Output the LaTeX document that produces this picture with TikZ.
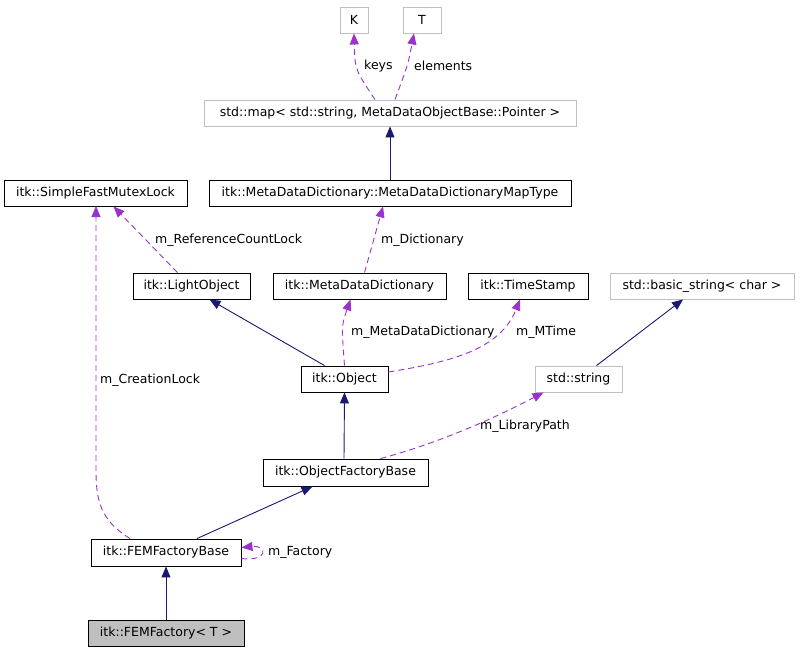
\documentclass[tikz,border=0pt]{standalone}
\usepackage{fontspec}
\setmainfont{DejaVu Sans}
\usetikzlibrary{arrows.meta}
\definecolor{navyedge}{HTML}{191970}
\definecolor{purpedge}{HTML}{9A32CD}
\definecolor{greyline}{HTML}{BFBFBF}
\begin{document}
\begin{tikzpicture}[x=1pt,y=-1pt,
  box/.style={draw=black, line width=0.9pt, inner sep=0pt, font=\fontsize{12.5}{15}\selectfont},
  gbox/.style={draw=greyline, line width=0.9pt, inner sep=0pt, font=\fontsize{12.5}{15}\selectfont},
  inh/.style={draw=navyedge, line width=0.9pt, -{Triangle[length=11pt,width=9pt]}},
  dep/.style={draw=purpedge, line width=0.9pt, dash pattern=on 6pt off 4pt, -{Triangle[length=11pt,width=9pt]}},
  lbl/.style={font=\fontsize{12.5}{15}\selectfont, inner sep=0pt}]
\useasboundingbox (0,0) rectangle (800,653);

\node[gbox, minimum width=28, minimum height=26] (K) at (354,20) {K};
\node[gbox, minimum width=38, minimum height=26] (T) at (422,20) {T};
\node[gbox, minimum width=372, minimum height=26] (map) at (390,113) {std::map< std::string, MetaDataObjectBase::Pointer >};
\node[box, minimum width=183, minimum height=26] (mutex) at (95.5,193) {itk::SimpleFastMutexLock};
\node[box, minimum width=362, minimum height=26] (mapt) at (390,193) {itk::MetaDataDictionary::MetaDataDictionaryMapType};
\node[box, minimum width=117, minimum height=26] (light) at (191.5,286) {itk::LightObject};
\node[box, minimum width=173, minimum height=26] (mdd) at (359.5,286) {itk::MetaDataDictionary};
\node[box, minimum width=120, minimum height=26] (ts) at (528,286) {itk::TimeStamp};
\node[gbox, minimum width=184, minimum height=26] (bstr) at (702,286) {std::basic\_string< char >};
\node[box, minimum width=87, minimum height=26] (obj) at (344.5,379) {itk::Object};
\node[gbox, minimum width=87, minimum height=26] (str) at (578.5,379) {std::string};
\node[box, minimum width=165, minimum height=27] (ofb) at (345.5,472.5) {itk::ObjectFactoryBase};
\node[box, minimum width=150, minimum height=27] (fembase) at (166,552.5) {itk::FEMFactoryBase};
\node[box, fill=greyline, minimum width=156, minimum height=26] (fem) at (166,633) {itk::FEMFactory< T >};

% map -> K, T
\draw[dep] ([xshift=-15]map.north) .. controls ([xshift=-35,yshift=30]map.north) .. (K.south);
\node[lbl, anchor=west] (lkeys) at (364,66) {keys};
\draw[dep] ([xshift=5]map.north) .. controls ([xshift=18,yshift=35]map.north) .. ([xshift=-8]T.south);
\node[lbl, anchor=west] (lel) at (414,66) {elements};

% inheritance map <- mapt
\draw[inh] (mapt.north) -- (map.south);

% mdd -> mapt
\draw[dep] ([xshift=5]mdd.north) -- ([xshift=-7]mapt.south);
\node[lbl, anchor=west] (ldict) at (381,240) {m\_Dictionary};

% light -> mutex
\draw[dep] ([xshift=-14]light.north) -- ([xshift=18]mutex.south);
\node[lbl, anchor=west] (lref) at (155,240) {m\_ReferenceCountLock};

% fembase -> mutex (creation lock)
\draw[dep] ([xshift=-36]fembase.north) .. controls (100,520) and (96,500) .. (96,470) -- (96,206);
\node[lbl, anchor=west] (lcl) at (100,380) {m\_CreationLock};

% obj -> light
\draw[inh] ([xshift=-20]obj.north) -- ([xshift=18]light.south);
% obj -> mdd
\draw[dep] ([xshift=0]obj.north) .. controls ([xshift=-3,yshift=40]obj.north) .. ([xshift=-9]mdd.south);
\node[lbl, anchor=west] (lmdd) at (351,332) {m\_MetaDataDictionary};
% obj -> ts
\draw[dep] ([yshift=7]obj.east) .. controls (450,362) and (500,350) .. ([xshift=-8]ts.south);
\node[lbl, anchor=west] (lmt) at (516,332) {m\_MTime};

% str -> bstr
\draw[inh] ([xshift=18]str.north) -- ([xshift=-19]bstr.south);

% ofb -> obj
\draw[inh] ([xshift=-1.5]ofb.north) -- (obj.south);
% ofb -> str
\draw[dep] ([xshift=35]ofb.north) .. controls (450,440) and (510,410) .. ([xshift=-35]str.south);
\node[lbl, anchor=west] (llp) at (480,426) {m\_LibraryPath};

% fembase -> ofb
\draw[inh] ([xshift=31]fembase.north) -- ([xshift=-33]ofb.south);
% self loop
\draw[dep] ([yshift=-6]fembase.east) .. controls (268,562) and (268,545) .. ([yshift=5]fembase.east);
\node[lbl, anchor=west] (lfac) at (268,552) {m\_Factory};

% fem -> fembase
\draw[inh] (fem.north) -- (fembase.south);
\end{tikzpicture}
\end{document}
